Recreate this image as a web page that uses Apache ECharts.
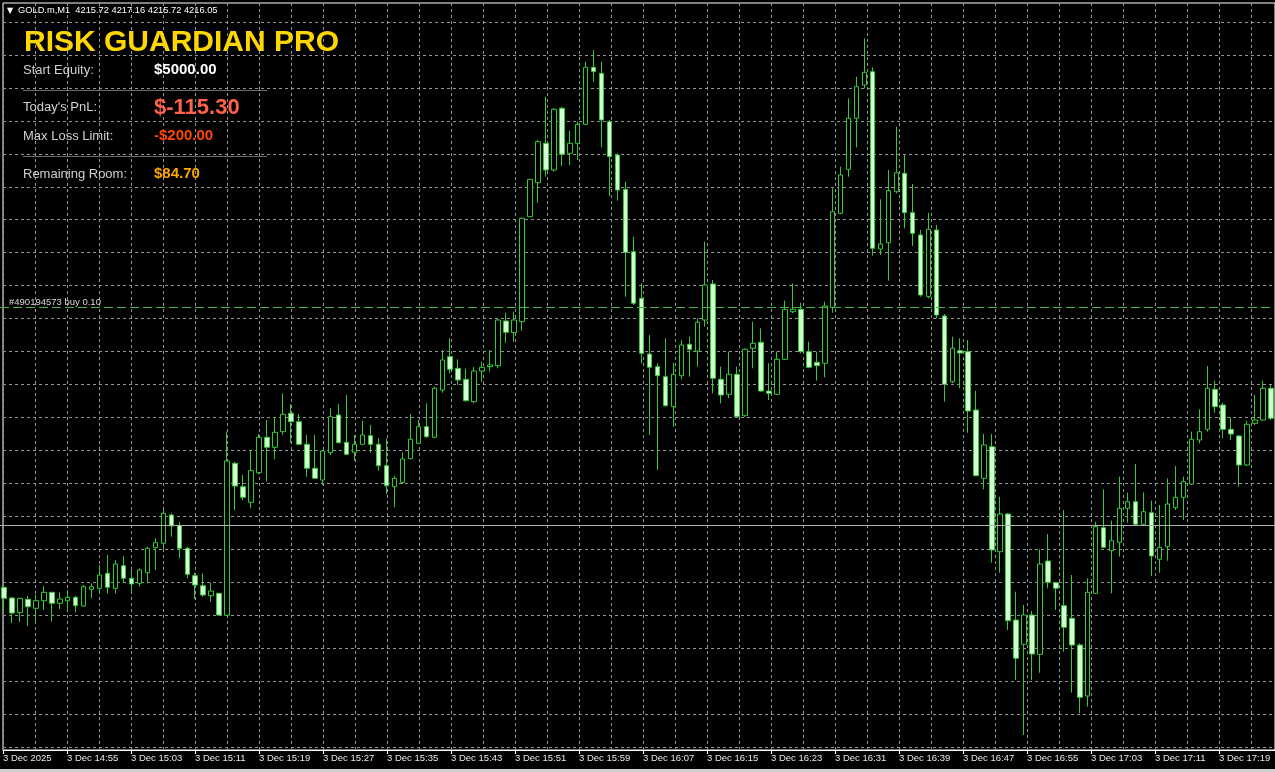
<!DOCTYPE html>
<html><head><meta charset="utf-8">
<script src="https://cdn.jsdelivr.net/npm/echarts/dist/echarts.min.js"></script>
<style>html,body{margin:0;padding:0;background:#000;}#c{width:1275px;height:772px;}</style>
</head><body><div id="c"></div>
<script>
const startTime = '14:47';
const tickLabels = ['3 Dec 2025','3 Dec 14:55','3 Dec 15:03','3 Dec 15:11','3 Dec 15:19','3 Dec 15:27','3 Dec 15:35','3 Dec 15:43','3 Dec 15:51','3 Dec 15:59','3 Dec 16:07','3 Dec 16:15','3 Dec 16:23','3 Dec 16:31','3 Dec 16:39','3 Dec 16:47','3 Dec 16:55','3 Dec 17:03','3 Dec 17:11','3 Dec 17:19'];

const opens = [
4199.15,4198.08,4196.61,4197.95,4197.05,4197.81,4198.65,4197.55,4197.81,4198.15,
4197.28,4198.95,4199.05,4200.55,4199.05,4201.31,4200.05,4199.55,4200.61,4203.11,
4203.55,4206.38,4205.31,4203.05,4200.31,4199.31,4198.31,4198.55,4196.35,4211.55,
4209.21,4207.65,4210.61,4214.15,4213.15,4214.71,4216.55,4215.71,4213.45,4211.05,
4209.88,4212.61,4216.38,4213.65,4212.65,4213.45,4214.31,4213.45,4211.31,4209.21,
4209.65,4212.01,4213.55,4215.21,4214.15,4218.88,4222.21,4221.05,4219.95,4217.71,
4220.78,4221.21,4221.31,4225.78,4224.61,4225.71,4236.21,4239.61,4243.55,4240.88,
4247.05,4242.55,4243.55,4245.45,4251.15,4250.55,4245.71,4242.38,4238.95,4232.71,
4228.05,4222.48,4221.21,4220.21,4217.21,4220.31,4223.45,4222.78,4225.88,4229.48,
4219.95,4218.45,4220.45,4216.31,4223.05,4223.65,4218.78,4218.45,4221.95,4226.71,
4226.95,4222.71,4221.65,4221.55,4227.15,4236.55,4240.95,4246.05,4249.38,4250.71,
4232.98,4233.61,4238.71,4240.55,4236.61,4234.38,4228.21,4234.88,4226.28,4219.71,
4222.81,4222.71,4216.88,4210.05,4213.21,4202.71,4206.48,4195.88,4193.45,4196.38,
4192.45,4201.78,4199.61,4197.31,4196.05,4193.38,4188.28,4198.55,4205.11,4202.81,
4203.65,4207.05,4207.71,4205.45,4206.61,4201.95,4203.21,4207.11,4208.15,4209.48,
4213.88,4214.95,4218.95,4217.38,4214.95,4214.28,4211.38,4215.55,4215.88,4219.05];

const highs = [
4199.38,4198.18,4198.08,4198.28,4198.38,4199.28,4198.68,4198.65,4198.88,4198.28,
4199.38,4199.55,4201.38,4202.38,4201.88,4202.28,4200.88,4201.05,4203.21,4204.05,
4206.88,4206.55,4205.71,4203.21,4200.61,4200.55,4199.61,4198.58,4214.71,4211.71,
4210.38,4212.88,4214.48,4215.88,4216.15,4218.55,4217.48,4216.48,4214.38,4214.38,
4212.88,4217.05,4217.48,4218.38,4214.38,4215.81,4215.38,4214.05,4214.05,4210.28,
4212.65,4216.48,4215.88,4217.55,4219.21,4222.88,4224.05,4221.95,4221.05,4221.21,
4221.71,4222.88,4225.98,4226.61,4226.71,4236.13,4239.98,4243.88,4248.21,4247.05,
4247.21,4244.81,4245.71,4251.71,4252.88,4251.71,4245.88,4242.55,4239.71,4234.21,
4229.55,4224.38,4221.55,4224.05,4221.61,4223.88,4224.21,4226.05,4233.71,4229.88,
4221.21,4222.71,4221.21,4223.05,4225.71,4225.05,4221.55,4222.71,4227.81,4229.55,
4227.61,4223.71,4222.71,4227.71,4239.05,4241.21,4248.05,4250.21,4254.05,4251.15,
4237.95,4240.88,4245.21,4242.38,4239.48,4234.88,4236.61,4235.38,4226.48,4224.21,
4224.05,4223.88,4218.81,4214.48,4214.48,4208.21,4206.58,4198.71,4197.38,4196.78,
4202.95,4204.48,4199.68,4206.88,4200.38,4193.55,4200.05,4205.71,4208.95,4205.81,
4210.21,4208.61,4211.48,4208.65,4207.81,4207.38,4210.05,4211.28,4210.21,4214.71,
4216.95,4221.28,4219.81,4217.61,4216.15,4214.38,4215.81,4218.38,4219.81,4219.38];

const lows = [
4196.58,4195.58,4195.68,4195.28,4195.61,4196.88,4195.71,4196.95,4196.88,4196.65,
4197.21,4198.05,4198.55,4198.55,4198.55,4199.55,4198.65,4199.21,4199.55,4200.88,
4202.88,4204.21,4202.05,4200.05,4197.95,4198.21,4197.71,4196.33,4196.30,4206.88,
4207.88,4207.05,4210.48,4209.71,4211.95,4214.38,4213.61,4213.38,4210.21,4210.03,
4209.38,4212.38,4213.55,4212.38,4211.81,4213.38,4212.61,4210.81,4208.48,4207.15,
4209.48,4211.95,4213.48,4214.05,4214.05,4218.61,4220.55,4219.38,4217.71,4217.55,
4219.71,4220.71,4221.05,4223.61,4223.71,4224.81,4236.18,4237.61,4240.21,4240.71,
4241.28,4241.38,4241.88,4245.38,4249.71,4243.15,4238.28,4237.81,4228.21,4227.38,
4221.55,4214.38,4210.88,4217.21,4215.21,4219.95,4220.21,4221.21,4225.21,4218.55,
4217.55,4218.05,4216.11,4216.21,4221.05,4218.71,4217.88,4218.38,4221.88,4226.55,
4222.55,4221.05,4219.81,4220.15,4226.61,4236.45,4240.21,4243.15,4249.05,4232.31,
4232.38,4229.81,4238.55,4235.05,4233.28,4228.21,4228.05,4226.05,4217.71,4219.55,
4219.05,4214.61,4210.25,4208.95,4201.61,4200.61,4194.88,4189.88,4184.38,4189.88,
4190.61,4199.05,4196.88,4192.71,4188.61,4186.55,4187.21,4198.48,4203.05,4198.55,
4202.21,4205.61,4205.38,4205.38,4200.28,4200.61,4201.81,4206.88,4205.88,4209.38,
4213.55,4214.71,4216.61,4214.05,4213.88,4209.21,4211.28,4215.38,4215.81,4215.88];

const closes = [
4198.05,4196.58,4198.05,4197.21,4197.81,4198.65,4197.55,4197.98,4198.15,4197.31,
4199.21,4199.21,4200.38,4199.15,4201.48,4200.05,4199.48,4200.88,4203.05,4203.61,
4206.55,4205.28,4203.05,4200.45,4199.38,4198.38,4198.78,4196.38,4211.78,4209.28,
4208.15,4210.81,4214.15,4213.15,4214.65,4216.45,4215.71,4213.45,4211.05,4210.05,
4212.78,4216.21,4213.61,4212.45,4213.45,4214.38,4213.45,4211.31,4209.31,4210.05,
4211.98,4213.95,4215.21,4214.21,4219.05,4221.88,4220.95,4219.88,4217.81,4220.78,
4221.15,4221.38,4225.88,4224.65,4225.88,4236.05,4239.95,4243.71,4240.88,4246.95,
4242.45,4243.55,4245.45,4251.15,4250.71,4245.88,4242.21,4238.88,4232.65,4227.55,
4222.55,4221.15,4220.31,4217.31,4220.45,4223.38,4222.95,4225.65,4229.38,4220.05,
4218.38,4220.45,4216.21,4222.95,4223.55,4218.78,4218.55,4221.95,4226.95,4226.95,
4222.71,4221.15,4221.31,4227.28,4236.71,4240.38,4246.05,4249.21,4250.65,4233.05,
4233.48,4238.81,4240.61,4236.61,4234.55,4228.38,4234.95,4226.38,4219.45,4223.05,
4222.58,4216.78,4210.31,4213.38,4202.88,4206.48,4195.81,4192.05,4196.38,4192.48,
4201.48,4199.65,4199.05,4195.15,4193.38,4188.15,4198.65,4205.21,4203.15,4203.81,
4207.05,4207.71,4205.45,4206.71,4202.28,4203.15,4207.48,4208.15,4209.71,4213.95,
4214.71,4219.05,4217.21,4214.95,4214.48,4211.38,4215.45,4215.88,4219.05,4216.05];

const priceMin = 4183.18;
const priceMax = 4255.68;
const orderPrice = 4227.18;
const hLinePrice = 4205.35;
const orderLabel = '#490194573 buy 0.10';
const headerText = 'GOLD.m,M1  4215.72 4217.16 4215.72 4216.05';
const panelTitle = 'RISK GUARDIAN PRO';
const panelLabels = ['Start Equity:', "Today's PnL:", 'Max Loss Limit:', 'Remaining Room:'];
const panelValues = ['$5000.00', '$-115.30', '-$200.00', '$84.70'];

// minute categories
const times = [];
{
  let [hh, mm] = startTime.split(':').map(Number);
  for (let i = 0; i < opens.length; i++) {
    times.push((hh < 10 ? '0' : '') + hh + ':' + (mm < 10 ? '0' : '') + mm);
    mm++; if (mm === 60) { mm = 0; hh++; }
  }
}

const gridColor = '#949494';
const candleGreen = '#36c836';
const F = '"Liberation Sans", Arial, sans-serif';

const chart = echarts.init(document.getElementById('c'), null, {renderer: 'canvas'});
const panelY = [70, 107.5, 136, 174];
const valueFonts = ['bold 15px ' + F, 'bold 22px ' + F, 'bold 15px ' + F, 'bold 15px ' + F];
const valueColors = ['#ffffff', '#ff6347', '#ff4500', '#ffa500'];

const graphics = [
  {type: 'text', x: 7, y: 10.5, z: 100, style: {text: '\u25BC', fill: '#ffffff', font: '8px "DejaVu Sans"', textVerticalAlign: 'middle'}},
  {type: 'text', x: 18, y: 10.5, z: 100, style: {text: headerText, fill: '#ffffff', font: '9.3px ' + F, textVerticalAlign: 'middle'}},
  {type: 'text', x: 24, y: 43, z: 100, style: {text: panelTitle, fill: '#ffd700', font: 'bold 30px ' + F, textVerticalAlign: 'middle'}},
  {type: 'line', z: 100, shape: {x1: 23, y1: 90.5, x2: 267, y2: 90.5}, style: {stroke: '#6a6a6a', lineWidth: 1}},
  {type: 'line', z: 100, shape: {x1: 23, y1: 156.5, x2: 267, y2: 156.5}, style: {stroke: '#6a6a6a', lineWidth: 1}},
  {type: 'text', x: 9, y: 302, z: 100, style: {text: orderLabel, fill: '#d8d8d8', font: '9.5px ' + F, textVerticalAlign: 'middle'}},
  {type: 'rect', z: 100, shape: {x: 0, y: 769, width: 1275, height: 3}, style: {fill: '#cfcfcf'}}
];
panelLabels.forEach((t, k) => {
  graphics.push({type: 'text', x: 23, y: panelY[k], z: 100, style: {text: t, fill: '#d0d0d0', font: '13px ' + F, textVerticalAlign: 'middle'}});
  graphics.push({type: 'text', x: 154, y: panelY[k], z: 100, style: {text: panelValues[k], fill: valueColors[k], font: valueFonts[k], textVerticalAlign: 'middle'}});
});

const option = {
  backgroundColor: '#000000',
  animation: false,
  grid: [
    {left: 3, right: -1, top: 3, bottom: 22, show: true, borderColor: '#ffffff', borderWidth: 1, backgroundColor: 'transparent'},
    {left: 3, right: 0, top: 22, bottom: 25},
    {left: -1, right: -4, top: 22, bottom: 25}
  ],
  xAxis: [
    {gridIndex: 0, type: 'category', data: times, boundaryGap: false,
     axisLine: {show: true, lineStyle: {color: '#ffffff', width: 1}},
     axisTick: {show: true, interval: 7, length: 4, lineStyle: {color: '#ffffff'}},
     axisLabel: {show: true, interval: 7, align: 'left', margin: 3, color: '#e8e8e8', fontSize: 9.5, fontFamily: F,
                 formatter: (v, idx) => tickLabels[idx / 8] || ''},
     splitLine: {show: true, interval: 3, lineStyle: {color: gridColor, type: [3, 3], width: 1}}},
    {gridIndex: 1, type: 'value', min: 0, max: 1, show: false},
    {gridIndex: 2, type: 'category', data: times, boundaryGap: true, show: false}
  ],
  yAxis: [
    {gridIndex: 0, type: 'value', min: 0, max: 1, show: false},
    {gridIndex: 1, type: 'value', min: 0, max: 22, interval: 1,
     axisLine: {show: false}, axisTick: {show: false}, axisLabel: {show: false},
     splitLine: {show: true, lineStyle: {color: gridColor, type: [3, 3], width: 1}}},
    {gridIndex: 2, type: 'value', min: priceMin, max: priceMax, show: false, splitLine: {show: false}}
  ],
  graphic: graphics,
  series: [{
    type: 'candlestick', xAxisIndex: 2, yAxisIndex: 2,
    data: opens.map((o, i) => [o, closes[i], lows[i], highs[i]]),
    barWidth: 5,
    itemStyle: {color: '#000000', color0: '#d2ffd2', borderColor: candleGreen, borderColor0: candleGreen, borderColorDoji: candleGreen, borderWidth: 1},
    emphasis: {disabled: true},
    markLine: {
      silent: true, symbol: 'none', label: {show: false}, animation: false,
      data: [
        {yAxis: orderPrice, lineStyle: {color: '#44b544', type: [9, 4], width: 1.2}},
        {yAxis: hLinePrice, lineStyle: {color: '#b0b0b0', type: 'solid', width: 1}}
      ]
    }
  }]
};
chart.setOption(option);
</script>
</body></html>
